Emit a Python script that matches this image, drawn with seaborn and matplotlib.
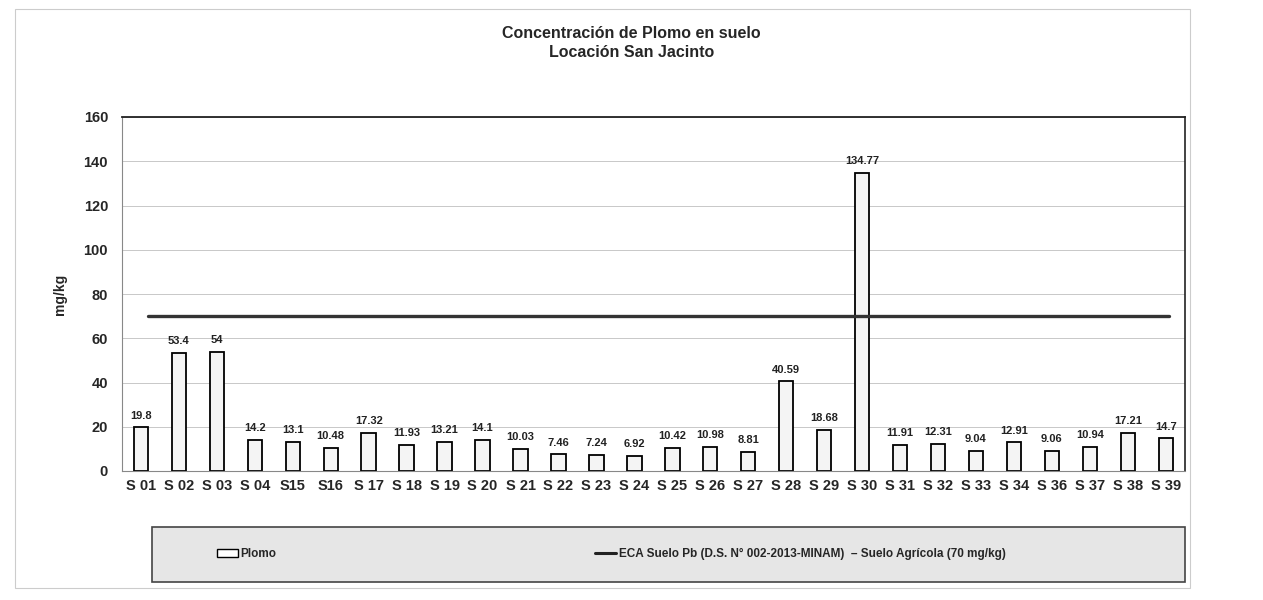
import numpy as np
import pandas as pd
import matplotlib
matplotlib.use("Agg")
import matplotlib.pyplot as plt
from matplotlib.patches import Patch, Rectangle
from matplotlib.lines import Line2D
import seaborn as sns

# Datos del gráfico
estaciones = ['S 01', 'S 02', 'S 03', 'S 04', 'S15', 'S16', 'S 17', 'S 18', 'S 19', 'S 20',
              'S 21', 'S 22', 'S 23', 'S 24', 'S 25', 'S 26', 'S 27', 'S 28', 'S 29', 'S 30',
              'S 31', 'S 32', 'S 33', 'S 34', 'S 36', 'S 37', 'S 38', 'S 39']
plomo = [19.8, 53.4, 54, 14.2, 13.1, 10.48, 17.32, 11.93, 13.21, 14.1,
         10.03, 7.46, 7.24, 6.92, 10.42, 10.98, 8.81, 40.59, 18.68, 134.77,
         11.91, 12.31, 9.04, 12.91, 9.06, 10.94, 17.21, 14.7]
eca_limite = 70
y_ticks = [0, 20, 40, 60, 80, 100, 120, 140, 160]

df = pd.DataFrame({'estacion': estaciones, 'plomo': plomo})

sns.set_style("white")
plt.rcParams['font.family'] = ['Liberation Sans', 'DejaVu Sans']

fig = plt.figure(figsize=(12.63, 6), dpi=100)
ax = fig.add_axes([0.0966, 0.215, 0.8414, 0.59])

# Marco exterior y caja de la leyenda
fig.patches.append(Rectangle((0.012, 0.02), 0.93, 0.965, transform=fig.transFigure,
                             fill=False, edgecolor='#cccccc', lw=0.8))
fig.patches.append(Rectangle((0.12, 0.03), 0.818, 0.092, transform=fig.transFigure,
                             facecolor='#e6e6e6', edgecolor='#444444', lw=1.2))

sns.barplot(data=df, x='estacion', y='plomo', ax=ax, color='#f4f4f4',
            edgecolor='black', linewidth=1.3, width=0.38, saturation=1)

ax.axhline(eca_limite, xmin=0.024, xmax=0.985, color='#333333', lw=2.4)

for i, v in enumerate(plomo):
    ax.text(i, v + 3, f'{v:g}', ha='center', va='bottom', fontsize=8,
            fontweight='bold', color='#222222')

ax.set_ylim(0, 160)
ax.set_xlim(-0.5, len(estaciones) - 0.5)
ax.set_yticks(y_ticks)
ax.yaxis.grid(True, color='#c8c8c8', lw=0.7)
ax.set_axisbelow(True)
ax.set_xlabel('')
ax.set_ylabel('mg/kg', fontsize=10, fontweight='bold', labelpad=12)
ax.tick_params(axis='y', labelsize=10.5, length=0, pad=10)
ax.tick_params(axis='x', labelsize=10.5, length=0, pad=6)
for lab in ax.get_xticklabels() + ax.get_yticklabels():
    lab.set_fontweight('bold')

# marcas entre categorias
ax.set_xticks(np.arange(-0.5, len(estaciones)), minor=True)
ax.tick_params(axis='x', which='minor', length=4, color='#777777', direction='out')

for s in ['left', 'bottom']:
    ax.spines[s].set_color('#888888')
    ax.spines[s].set_linewidth(0.8)
ax.spines['top'].set_color('#222222')
ax.spines['top'].set_linewidth(1.3)
ax.spines['right'].set_color('#222222')
ax.spines['right'].set_linewidth(1.2)

fig.text(0.5, 0.937, 'Concentración de Plomo en suelo', ha='center', fontsize=11.5, fontweight='bold')
fig.text(0.5, 0.905, 'Locación San Jacinto', ha='center', fontsize=11.5, fontweight='bold')

handles = [Patch(facecolor='white', edgecolor='black', lw=1.0),
           Line2D([0], [0], color='#222222', lw=2.2)]
labels = ['Plomo', 'ECA Suelo Pb (D.S. N° 002-2013-MINAM)  – Suelo Agrícola (70 mg/kg)']
fig.legend(handles, labels, loc='center', bbox_to_anchor=(0.484, 0.076), ncol=2,
           frameon=False, prop={'weight': 'bold', 'size': 8.5},
           columnspacing=27, handlelength=1.8, handletextpad=0.2)

fig.savefig('out.png', dpi=100)
